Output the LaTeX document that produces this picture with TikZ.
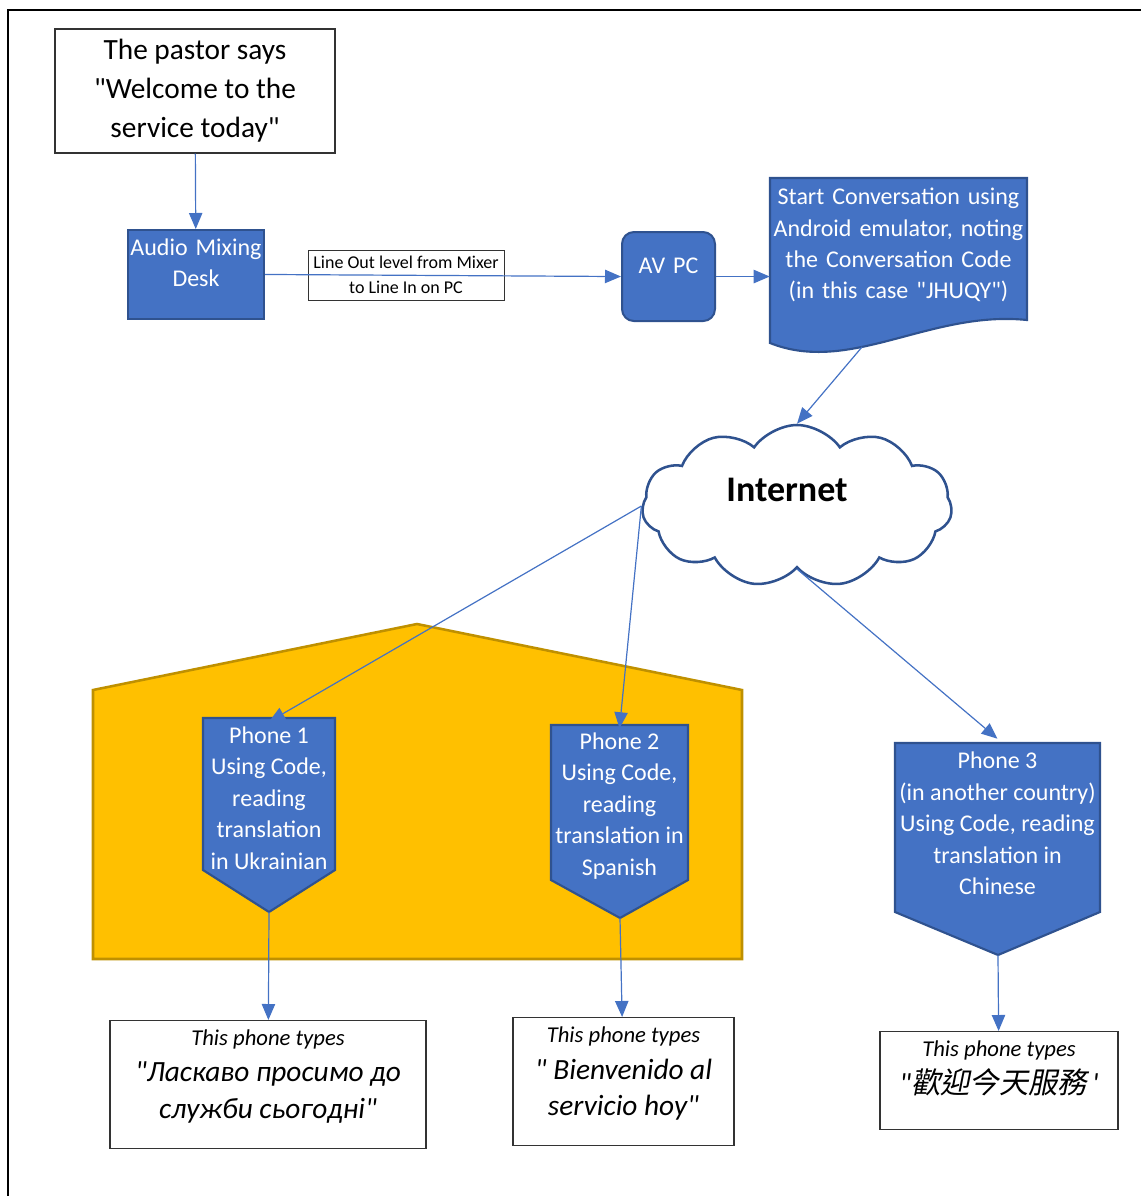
\documentclass[tikz,border=0pt]{standalone}
\usepackage{fontspec}
\setmainfont{Carlito}[Ligatures=TeXOff]
\newfontfamily\cjk{Noto Sans CJK TC}[FakeSlant=0.2,Ligatures=TeXOff]
\usetikzlibrary{arrows.meta,positioning,shapes.symbols}
\definecolor{officeblue}{HTML}{4472C4}
\definecolor{officeedge}{HTML}{2F528F}
\definecolor{churchgold}{HTML}{FFC000}
\definecolor{churchedge}{HTML}{BF9000}

\begin{document}
\begin{tikzpicture}[x=0.75pt,y=-0.75pt,>={Triangle[length=12pt,width=10pt]},
		bluebox/.style={fill=officeblue,draw=officeedge,line width=1.5pt,text=white,align=center,inner sep=0pt,anchor=north,font=\fontsize{18}{23.6}\selectfont},
		phonetext/.style={text=white,align=center,inner sep=0pt,font=\fontsize{18}{23.6}\selectfont},
		phoneshape/.style={fill=officeblue,draw=officeedge,line width=1.6pt,line join=miter},
		textbox/.style={fill=white,draw=black!80,line width=0.9pt,align=center,inner sep=0pt},
		typesbox/.style={textbox,align=flush center,anchor=north,font=\fontsize{22}{27.5}\selectfont\itshape}]
	\useasboundingbox (0,0) rectangle (1141,1196);
	\draw[line width=1.4pt] (8,1196) -- (8,10) -- (1141,10);

	\node[textbox,minimum width=210pt,minimum height=93pt,font=\fontsize{22}{29.25}\selectfont] (Pastor) at (195,91) {The pastor says\\"Welcome to the\\service today"};
	\node[bluebox,text width=102pt,text height=19pt,text depth=47.7pt] (MixingDesk) at (196,229) {Audio Mixing\\Desk};
	\node[textbox,line width=0.75pt,minimum width=147pt,minimum height=37.5pt,font=\fontsize{13.5}{18.75}\selectfont] (LineOut) at (406,275) {Line Out level from Mixer\\to Line In on PC};
	\node[bluebox,rounded corners=9pt,text width=69.75pt,text height=31.3pt,text depth=35.5pt] (AvPc) at (668.5,231) {AV PC};

	\filldraw[phoneshape] (770,178) -- (1027,178) -- (1027,320) .. controls (930,310) and (850,375) .. (770,343) -- cycle;
	\node[phonetext,anchor=north,text width=192.75pt,text height=19.7pt,text depth=79.3pt] (StartConv) at (898.5,178) {Start Conversation using\\Android emulator, noting\\the Conversation Code\\(in this case "JHUQY")};
	\coordinate (StartConvTail) at (862,347);

	\node[cloud,cloud puffs=11,cloud puff arc=110,cloud ignores aspect,minimum width=232.5pt,minimum height=121.5pt,draw=officeedge,line width=1.9pt,fill=white] (Internet) at (797,506) {};
	\node[font=\fontsize{27}{32}\selectfont\bfseries] (InternetLabel) at (787,490) {Internet};

	\filldraw[fill=churchgold,draw=churchedge,line width=1.9pt] (93,690) -- (417,624) -- (742,690) -- (742,959) -- (93,959) -- cycle;

	\filldraw[phoneshape] (203,718) -- (335,718) -- (335,870) -- (269,912) -- (203,870) -- cycle;
	\node[phonetext,minimum width=99pt,minimum height=114pt] (PhoneOne) at (269,798) {Phone 1\\Using Code,\\reading\\translation\\in Ukrainian};
	\coordinate (PhoneOneTip) at (269,912);
	\filldraw[phoneshape] (551,725) -- (688,725) -- (688,880) -- (620,918) -- (551,880) -- cycle;
	\node[phonetext,minimum width=102.75pt,minimum height=116.25pt] (PhoneTwo) at (619.5,806) {Phone 2\\Using Code,\\reading\\translation in\\Spanish};
	\coordinate (PhoneTwoTip) at (620,918);
	\filldraw[phoneshape] (895,743) -- (1100,743) -- (1100,912) -- (998,955) -- (895,912) -- cycle;
	\node[phonetext,minimum width=153.75pt,minimum height=126.75pt] (PhoneThree) at (997.5,823.5) {Phone 3\\(in another country)\\Using Code, reading\\translation in\\Chinese};
	\coordinate (PhoneThreeTip) at (998,955);

	\node[typesbox,text width=237pt,text height=18.5pt,text depth=77.5pt] (TypesUkr) at (268,1020) {{\fontsize{17}{20}\selectfont This phone types}\\"Ласкаво просимо до\\служби сьогодні"};
	\node[typesbox,text width=165.75pt,text height=18.7pt,text depth=77.3pt] (TypesEsp) at (623.5,1017) {{\fontsize{17}{20}\selectfont This phone types}\\" Bienvenido al\\servicio hoy"};
	\node[typesbox,text width=178.5pt,text height=18.7pt,text depth=54.8pt] (TypesChn) at (999,1031) {{\fontsize{17}{20}\selectfont This phone types}\\"{\cjk\upshape 歡迎今天服務}\,'};

	\path[->,color=officeblue,line width=0.9pt] (Pastor) edge (MixingDesk)
				 (MixingDesk.east) edge (AvPc.west)
				 (AvPc.east) edge (StartConv.west |- AvPc.east)
				 (StartConvTail) edge (Internet.north)
				 (Internet.west) edge (PhoneOne.north)
				 (Internet.west) edge (PhoneTwo.north)
				 (Internet.south) edge (PhoneThree.north)
				 (PhoneOneTip) edge (TypesUkr)
				 (PhoneTwoTip) edge (TypesEsp)
				 (PhoneThreeTip) edge (TypesChn);
\end{tikzpicture}
\end{document}
